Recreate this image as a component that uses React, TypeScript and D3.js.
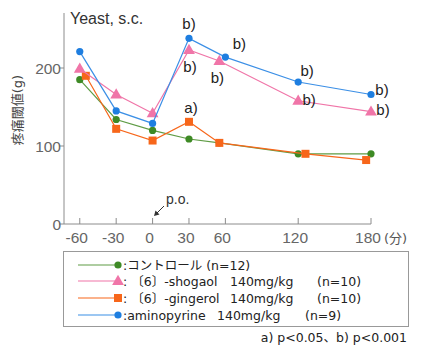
import React from "react";
import * as d3 from "d3";

const xTicks = [-60, -30, 0, 30, 60, 120, 180];
const yTicks = [0, 100, 200];

const controlT = [-60, -30, 0, 30, 55, 120, 180];
const controlV = [185, 134, 120, 109, 104, 90, 90];
const shogaolT = [-60, -30, 0, 30, 55, 120, 180];
const shogaolV = [199, 166, 142, 223, 209, 158, 144];
const gingerolT = [-55, -30, 0, 30, 55, 126, 176];
const gingerolV = [190, 122, 107, 131, 104, 90, 82];
const aminoT = [-60, -30, 0, 30, 60, 120, 180];
const aminoV = [221, 145, 129, 238, 214, 182, 166];

const sigLabels = [
  { t: 30, v: 238, text: "b)", dx: 0, dy: -9 },
  { t: 30, v: 223, text: "b)", dx: 1, dy: 22 },
  { t: 60, v: 214, text: "b)", dx: 14, dy: -8 },
  { t: 55, v: 209, text: "b)", dx: -2, dy: 22 },
  { t: 120, v: 182, text: "b)", dx: 9, dy: -6 },
  { t: 120, v: 158, text: "b)", dx: 11, dy: 4 },
  { t: 180, v: 166, text: "b)", dx: 11, dy: 0 },
  { t: 180, v: 144, text: "b)", dx: 12, dy: 3 },
  { t: 30, v: 131, text: "a)", dx: 2, dy: -9 },
];

const legendLabels = [
  [":コントロール (n=12)", "", ""],
  [": 〔6〕-shogaol", "140mg/kg", "(n=10)"],
  [": 〔6〕-gingerol", "140mg/kg", "(n=10)"],
  [":aminopyrine", "140mg/kg", "(n=9)"],
];

const GREEN = "#3e8a25";
const GREEN_L = "#5f9c45";
const PINK = "#f075a8";
const ORANGE = "#f7661a";
const BLUE = "#1e7ee0";
const BLUE_L = "#3b8fe6";

const FONT = "'DejaVu Sans', 'Noto Sans CJK JP', sans-serif";
const FONT2 = "'Liberation Sans', 'Noto Sans CJK JP', sans-serif";

export default function App() {
  const x = d3.scaleLinear().domain([-73, 180]).range([64, 371]);
  const y = d3.scaleLinear().domain([0, 100, 200]).range([224, 146, 68]);

  const line = d3
    .line<[number, number]>()
    .x((d) => x(d[0]))
    .y((d) => y(d[1]));

  const zip = (ts: number[], vs: number[]) =>
    ts.map((t, i) => [t, vs[i]] as [number, number]);

  const tri = d3.symbol().type(d3.symbolTriangle).size(60)() as string;

  const series = [
    { pts: zip(controlT, controlV), color: GREEN, lcolor: GREEN_L, shape: "circle" },
    { pts: zip(gingerolT, gingerolV), color: ORANGE, lcolor: ORANGE, shape: "square" },
    { pts: zip(shogaolT, shogaolV), color: PINK, lcolor: PINK, shape: "tri" },
    { pts: zip(aminoT, aminoV), color: BLUE, lcolor: BLUE_L, shape: "circle" },
  ];

  const marker = (shape: string, color: string, cx: number, cy: number, key: any) => {
    if (shape === "circle") return <circle key={key} cx={cx} cy={cy} r={3.6} fill={color} />;
    if (shape === "square")
      return <rect key={key} x={cx - 4} y={cy - 4} width={8} height={8} fill={color} />;
    return <path key={key} d={tri} transform={`translate(${cx},${cy + 0.5})`} fill={color} />;
  };

  const legendSeries = [series[0], series[2], series[1], series[3]];
  const legendRows = [265, 281, 298, 315];

  return (
    <svg width={429} height={357} style={{ position: "absolute", left: 0, top: 0, background: "#fff" }}>
      <rect width={429} height={357} fill="#fff" />
      {/* axes */}
      <line x1={64} x2={64} y1={13} y2={224} stroke="#8c8c8c" strokeWidth={1} />
      <line x1={64} x2={371} y1={224} y2={224} stroke="#8c8c8c" strokeWidth={1} />
      {yTicks.map((v) => (
        <g key={v}>
          <line x1={59} x2={64} y1={y(v)} y2={y(v)} stroke="#8c8c8c" />
          <text x={61} y={y(v) + 5.5} textAnchor="end" fontSize={15.5} fill="#666" fontFamily={FONT2}>
            {v}
          </text>
        </g>
      ))}
      {xTicks.map((t) => (
        <g key={t}>
          <line x1={x(t)} x2={x(t)} y1={218} y2={224} stroke="#8c8c8c" />
          <text x={x(t) - 3} y={243} textAnchor="middle" fontSize={15.5} fill="#666" fontFamily={FONT2}>
            {t}
          </text>
        </g>
      ))}
      <text x={384} y={243} fontSize={13} fill="#555" fontFamily={FONT}>
        (分)
      </text>
      <text
        transform="translate(22,110) rotate(-90)"
        textAnchor="middle"
        fontSize={13}
        fill="#444"
        fontFamily={FONT}
      >
        疼痛閾値(g)
      </text>
      <text x={70} y={24} fontSize={16} fill="#333" fontFamily={FONT2}>
        Yeast, s.c.
      </text>
      {/* p.o. */}
      <text x={166} y={204} fontSize={14} fill="#333" fontFamily={FONT2}>
        p.o.
      </text>
      <line x1={164} x2={157} y1={206} y2={213} stroke="#333" strokeWidth={1} />
      <path d="M154,216 L155.5,210.5 L159.5,214.5 Z" fill="#333" />
      {/* series */}
      {series.map((s, i) => (
        <g key={i}>
          <path d={line(s.pts) as string} fill="none" stroke={s.lcolor} strokeWidth={1.2} />
          {s.pts.map((p, j) => marker(s.shape, s.color, x(p[0]), y(p[1]), j))}
        </g>
      ))}
      {sigLabels.map((l, i) => (
        <text
          key={i}
          x={x(l.t) + l.dx}
          y={y(l.v) + l.dy}
          textAnchor="middle"
          fontSize={15}
          fill="#222"
          fontFamily={FONT2}
        >
          {l.text}
        </text>
      ))}
      {/* legend */}
      <rect x={63.5} y={251.5} width={345} height={75} fill="none" stroke="#999" strokeWidth={1} />
      {legendSeries.map((s, i) => {
        const cy = legendRows[i];
        const lab = legendLabels[i];
        return (
          <g key={i}>
            <line x1={78} x2={118} y1={cy} y2={cy} stroke={s.lcolor} strokeWidth={1.2} />
            {marker(s.shape, s.color, 118, cy, "m")}
            <text x={123} y={cy + 5} fontSize={12.5} fill="#222" fontFamily={FONT}>
              {lab[0]}
            </text>
            {lab[1] && (
              <text x={i === 3 ? 217 : 230} y={cy + 5} fontSize={12.5} fill="#222" fontFamily={FONT}>
                {lab[1]}
              </text>
            )}
            {lab[2] && (
              <text x={i === 3 ? 305 : 317} y={cy + 5} fontSize={12.5} fill="#222" fontFamily={FONT}>
                {lab[2]}
              </text>
            )}
          </g>
        );
      })}
      <text x={407} y={342} textAnchor="end" fontSize={12.5} fill="#222" fontFamily={FONT}>
        a) p&lt;0.05、b) p&lt;0.001
      </text>
    </svg>
  );
}
